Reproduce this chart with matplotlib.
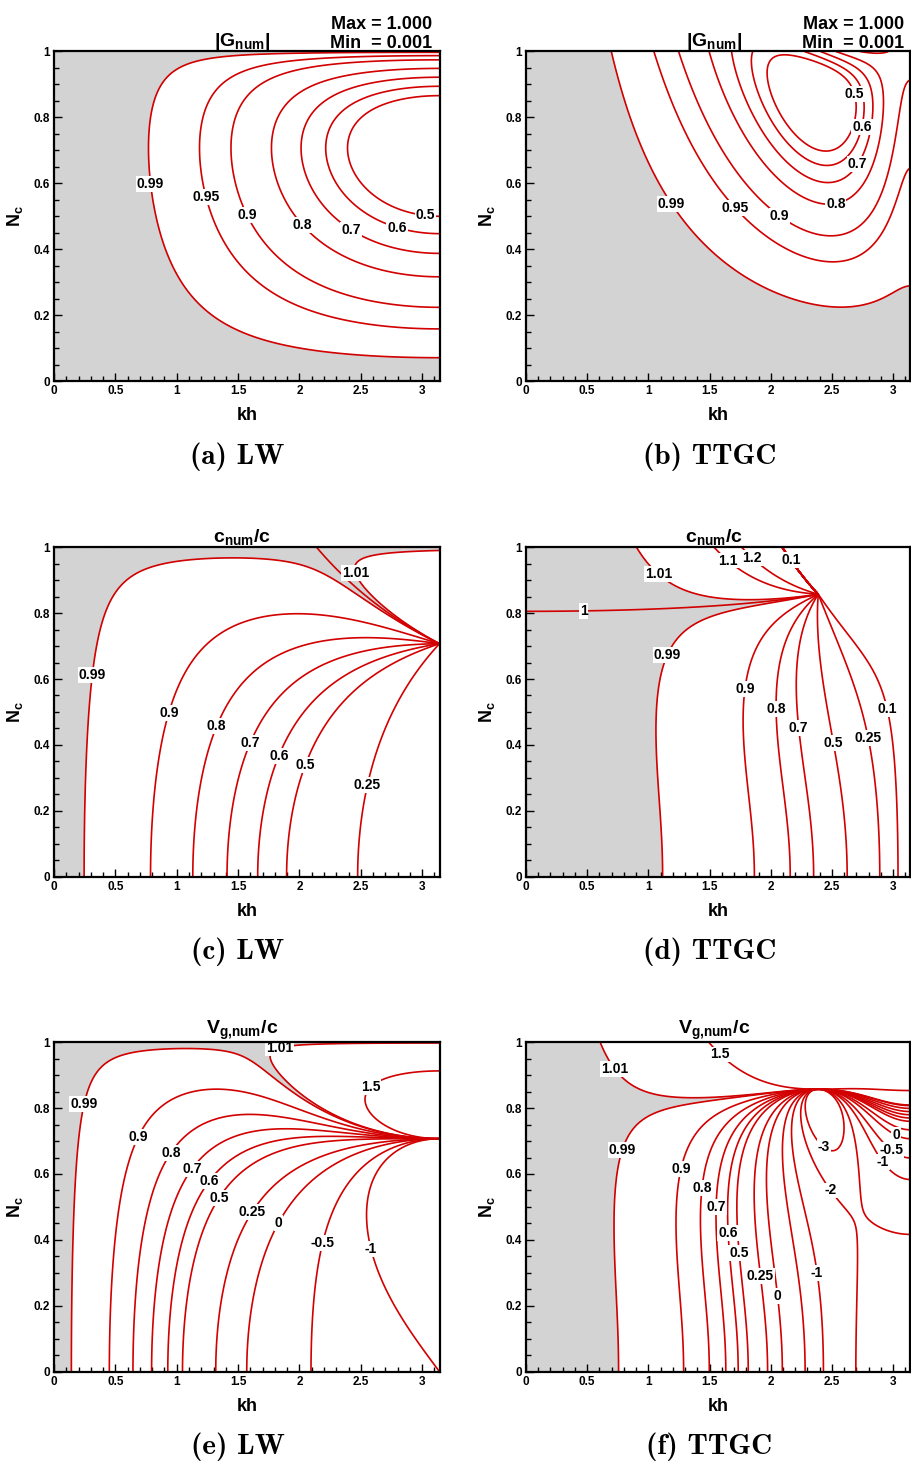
import numpy as np
import matplotlib
matplotlib.use("Agg")
import matplotlib.pyplot as plt
from matplotlib.ticker import MultipleLocator, FuncFormatter

# ---------------------------------------------------------------------------
# Scheme coefficients (TTGC: Colin & Rudgyard two-step Taylor-Galerkin)
GAMMA = 0.01
ALPHA = 0.5 - GAMMA
BETA = 1.0 / 6.0

# Contour levels of each panel
levels_mag_lw = [0.5, 0.6, 0.7, 0.8, 0.9, 0.95, 0.99]
levels_mag_ttgc = [0.5, 0.6, 0.7, 0.8, 0.9, 0.95, 0.99]
levels_c_lw = [0.25, 0.5, 0.6, 0.7, 0.8, 0.9, 0.99, 1.0, 1.01]
levels_c_ttgc = [0.1, 0.25, 0.5, 0.7, 0.8, 0.9, 0.99, 1.0, 1.01, 1.1, 1.2]
levels_vg_lw = [-1, -0.5, 0, 0.25, 0.5, 0.6, 0.7, 0.8, 0.9, 0.99, 1.01, 1.5]
levels_vg_ttgc = [-3, -2, -1, -0.5, 0, 0.25, 0.5, 0.6, 0.7, 0.8, 0.9, 0.99,
                  1.01, 1.5]

# Contour labels: (level, kh, Nc)
labels_mag_lw = [(0.99, 0.82, 0.60), (0.95, 1.27, 0.56), (0.9, 1.61, 0.51),
                 (0.8, 2.04, 0.48), (0.7, 2.44, 0.47), (0.6, 2.80, 0.47),
                 (0.5, 3.03, 0.51)]
labels_mag_ttgc = [(0.99, 1.20, 0.54), (0.95, 1.69, 0.52), (0.9, 2.07, 0.50),
                   (0.8, 2.53, 0.54), (0.7, 2.70, 0.66), (0.6, 2.76, 0.77),
                   (0.5, 2.67, 0.87)]
labels_c_lw = [(0.99, 0.33, 0.61), (0.9, 0.92, 0.50), (0.8, 1.30, 0.46),
               (0.7, 1.57, 0.41), (0.6, 1.81, 0.37), (0.5, 2.03, 0.34),
               (0.25, 2.54, 0.28), (1.01, 2.52, 0.93)]
labels_c_ttgc = [(1.01, 1.09, 0.92), (1.0, 0.47, 0.81), (0.99, 1.17, 0.67),
                 (1.1, 1.65, 0.96), (1.2, 1.83, 0.96), (0.1, 2.18, 0.965),
                 (0.9, 1.76, 0.57), (0.8, 2.01, 0.51), (0.7, 2.18, 0.45),
                 (0.5, 2.44, 0.40), (0.25, 2.78, 0.42), (0.1, 2.95, 0.51)]
labels_vg_lw = [(0.99, 0.26, 0.81), (0.9, 0.70, 0.71), (0.8, 0.97, 0.66),
                (0.7, 1.14, 0.61), (0.6, 1.29, 0.57), (0.5, 1.38, 0.52),
                (0.25, 1.63, 0.48), (0, 1.84, 0.45), (-0.5, 2.20, 0.39),
                (-1, 2.56, 0.37), (1.01, 1.85, 0.97), (1.5, 2.59, 0.86)]
labels_vg_ttgc = [(1.01, 0.73, 0.92), (1.5, 1.58, 0.96), (0.99, 0.81, 0.67),
                  (0.9, 1.21, 0.62), (0.8, 1.40, 0.56), (0.7, 1.54, 0.50),
                  (0.6, 1.62, 0.42), (0.5, 1.75, 0.36), (0.25, 1.91, 0.29),
                  (0, 2.07, 0.23), (-1, 2.37, 0.30), (-2, 2.49, 0.55),
                  (-3, 2.43, 0.68), (0, 3.04, 0.73), (-0.5, 3.00, 0.68),
                  (-1, 2.89, 0.63)]

titles = [r"$|G_{num}|$", r"$|G_{num}|$", r"$c_{num}/c$", r"$c_{num}/c$",
          r"$V_{g{,}num}/c$", r"$V_{g{,}num}/c$"]
captions = ["(a) LW", "(b) TTGC", "(c) LW", "(d) TTGC", "(e) LW", "(f) TTGC"]
extrema_lines = ["Max = 1.000", "Min  = 0.001"]

# ---------------------------------------------------------------------------
# Amplification factors
def amp_lw(t, n):
    return 1.0 - 1j * n * np.sin(t) - n ** 2 * (1.0 - np.cos(t))


def amp_ttgc(t, n):
    m = (2.0 + np.cos(t)) / 3.0
    a = -1j * n * np.sin(t) / m
    b = -2.0 * n ** 2 * (1.0 - np.cos(t)) / m
    return 1.0 + a + ALPHA * a ** 2 + BETA * a * b + GAMMA * b


kh = np.linspace(1e-4, np.pi, 800)
nc = np.linspace(1e-4, 1.0, 800)
K, N = np.meshgrid(kh, nc)


def fields(amp):
    with np.errstate(all="ignore"):
        g = amp(K, N)
        mag = np.abs(g)
        c_ratio = -np.angle(g) / (N * K)
        eps = 1e-6
        dg = (amp(K + eps, N) - amp(K - eps, N)) / (2 * eps)
        vg = -np.imag(dg / g) / N
    return mag, c_ratio, vg


mag_lw, c_lw, vg_lw = fields(amp_lw)
mag_tt, c_tt, vg_tt = fields(amp_ttgc)

# ---------------------------------------------------------------------------
plt.rcParams["font.family"] = ["Liberation Sans", "DejaVu Sans"]
plt.rcParams["font.weight"] = "bold"
plt.rcParams["mathtext.fontset"] = "custom"
plt.rcParams["mathtext.rm"] = "Liberation Sans:bold"
plt.rcParams["mathtext.it"] = "Liberation Sans:bold"
plt.rcParams["mathtext.bf"] = "Liberation Sans:bold"
plt.rcParams["mathtext.sf"] = "Liberation Sans:bold"
plt.rcParams["mathtext.default"] = "rm"
plt.rcParams["contour.negative_linestyle"] = "solid"

W, H = 912, 1461
fig = plt.figure(figsize=(W / 100, H / 100), dpi=100)

col_x = [54 / W, 526 / W]
col_w = [385.5 / W, 384.5 / W]
row_y = [1 - 381 / H, 1 - 876.7 / H, 1 - 1371.7 / H]
ax_h = 329.5 / H
cap_x = [237.5 / W, 709.5 / W]
cap_base = [464, 959, 1454]

RED = "#d20000"
GRAY = "#d3d3d3"

panels = [
    (mag_lw, levels_mag_lw, labels_mag_lw, [0.99, 10.0]),
    (mag_tt, levels_mag_ttgc, labels_mag_ttgc, [0.99, 10.0]),
    (c_lw, levels_c_lw, labels_c_lw, [0.99, 1.01]),
    (c_tt, levels_c_ttgc, labels_c_ttgc, [0.99, 1.01]),
    (vg_lw, levels_vg_lw, labels_vg_lw, [0.99, 1.01]),
    (vg_tt, levels_vg_ttgc, labels_vg_ttgc, [0.99, 1.01]),
]

fmt_tick = FuncFormatter(lambda v, p: f"{v:g}")

for i, (field, levels, label_pts, band) in enumerate(panels):
    r, c = divmod(i, 2)
    ax = fig.add_axes([col_x[c], row_y[r], col_w[c], ax_h])
    ax.set_xlim(0, np.pi)
    ax.set_ylim(0, 1)
    ax.contourf(K, N, field, levels=band, colors=[GRAY])
    ax.contour(K, N, field, levels=levels, colors=RED, linewidths=1.2,
               linestyles="solid")
    # labels: each one snapped onto its own level's line
    for lev, x, y in label_pts:
        guide = ax.contour(K, N, field, levels=[lev], colors="none",
                           linewidths=0)
        texts = guide.clabel([lev], manual=[(x, y)], inline=False,
                             fmt=lambda v: f"{v:g}", fontsize=10,
                             colors="black")
        for t in texts:
            t.set_rotation(0)
            t.set_fontweight("bold")
            t.set_bbox(dict(facecolor="white", edgecolor="none", pad=0.7))
            t.set_zorder(5)

    ax.xaxis.set_major_locator(MultipleLocator(0.5))
    ax.xaxis.set_minor_locator(MultipleLocator(0.1))
    ax.yaxis.set_major_locator(MultipleLocator(0.2))
    ax.yaxis.set_minor_locator(MultipleLocator(0.05))
    ax.xaxis.set_major_formatter(fmt_tick)
    ax.yaxis.set_major_formatter(fmt_tick)
    ax.tick_params(which="both", direction="in", top=False, right=False,
                   labelsize=8.5, width=1.0)
    ax.tick_params(which="major", length=6, pad=3)
    ax.tick_params(which="minor", length=3.5)
    for sp in ax.spines.values():
        sp.set_linewidth(1.6)
        sp.set_zorder(6)
    ax.set_xlabel("kh", fontsize=13, fontweight="bold", labelpad=7)
    ax.set_ylabel(r"$N_c$", fontsize=13, fontweight="bold", labelpad=6)
    ax.set_title(titles[i], fontsize=14, fontweight="bold", pad=3.5,
                 x=0.5 - 4.5 / 385)

    fig.text(cap_x[c], 1 - cap_base[r] / H, captions[i], family="cmb10",
             fontsize=21, ha="center", va="baseline")

    if r == 0:
        x_right = (432 if c == 0 else 904) / W
        for line, base in zip(extrema_lines, [29, 47.5]):
            fig.text(x_right, 1 - base / H, line, fontsize=13,
                     fontweight="bold", ha="right", va="baseline")

fig.savefig("out.png", dpi=100)
